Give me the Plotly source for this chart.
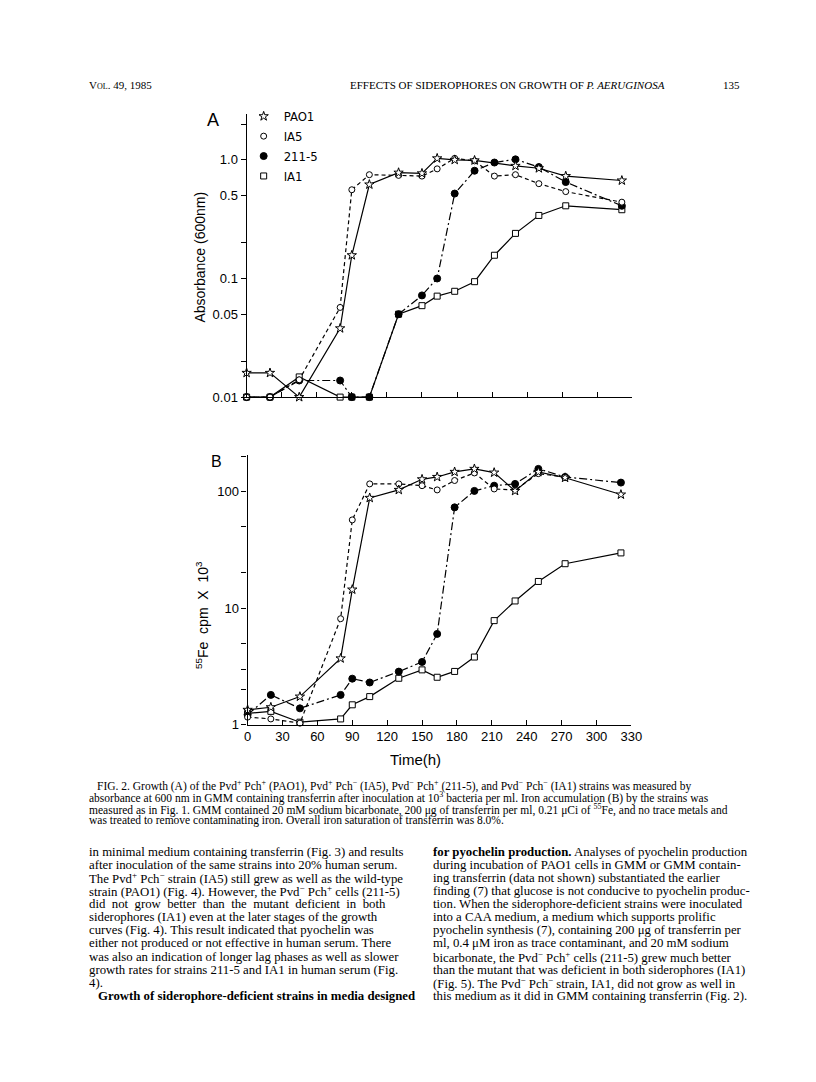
import plotly.graph_objects as go

W, H = 816, 1082

# ---- data ----
strains = ["PAO1", "IA5", "211-5", "IA1"]

# panel A: absorbance (600 nm)
a_pao1_t = [0, 20, 45, 80, 90, 105, 130, 150, 163, 178, 195, 230, 250, 273, 321]
a_pao1_v = [0.016, 0.016, 0.010, 0.038, 0.157, 0.62, 0.78, 0.77, 1.03, 1.0, 0.99, 0.89, 0.85, 0.73, 0.67]
a_ia5_t = [0, 20, 45, 80, 90, 105, 130, 150, 163, 178, 195, 212, 230, 250, 273, 321]
a_ia5_v = [0.01, 0.01, 0.014, 0.057, 0.56, 0.75, 0.74, 0.73, 0.84, 1.03, 0.98, 0.73, 0.75, 0.63, 0.54, 0.44]
a_2115_t = [0, 20, 45, 80, 90, 105, 130, 150, 163, 178, 195, 212, 230, 250, 273, 321]
a_2115_v = [0.01, 0.01, 0.0138, 0.0138, 0.01, 0.01, 0.05, 0.072, 0.10, 0.52, 0.81, 0.95, 1.01, 0.87, 0.65, 0.41]
a_ia1_t = [0, 20, 45, 80, 90, 105, 130, 150, 163, 178, 195, 212, 230, 250, 273, 321]
a_ia1_v = [0.01, 0.01, 0.0148, 0.01, 0.01, 0.01, 0.05, 0.059, 0.071, 0.078, 0.094, 0.157, 0.24, 0.34, 0.41, 0.38]

# panel B: 55Fe cpm x 10^3
b_pao1_t = [0, 20, 45, 80, 90, 105, 130, 150, 163, 178, 195, 212, 230, 250, 273, 321]
b_pao1_v = [1.34, 1.41, 1.74, 3.7, 14.4, 88, 103, 127, 133, 147, 156, 145, 101, 147, 131, 94]
b_ia5_t = [0, 20, 45, 80, 90, 105, 130, 150, 163, 178, 195, 212, 230, 250, 273]
b_ia5_v = [1.16, 1.12, 1.03, 8.1, 57, 116, 116, 112, 103, 124, 144, 105, 103, 142, 133]
b_2115_t = [0, 20, 45, 80, 90, 105, 130, 150, 163, 178, 195, 212, 230, 250, 273, 321]
b_2115_v = [1.22, 1.8, 1.38, 1.8, 2.48, 2.3, 2.85, 3.45, 6.0, 73, 101, 112, 116, 156, 133, 119]
b_ia1_t = [0, 20, 45, 80, 90, 105, 130, 150, 163, 178, 195, 212, 230, 250, 273, 321]
b_ia1_v = [1.25, 1.3, 1.05, 1.12, 1.48, 1.74, 2.5, 2.95, 2.55, 2.86, 3.8, 7.8, 11.5, 16.9, 24, 29.7]

x_ticks = [0, 30, 60, 90, 120, 150, 180, 210, 240, 270, 300, 330]
a_ticks = [0.01, 0.05, 0.1, 0.5, 1]
a_ticktext = ["0.01", "0.05", "0.1", "0.5", "1.0"]
a_minor = [0.02, 0.2, 2]
b_ticks = [1, 10, 100]
b_ticktext = ["1", "10", "100"]
b_minor = [2, 3, 5, 20, 50, 200]

styles = {
    "PAO1": dict(symbol="star", fill="white", dash="solid", size=7),
    "IA5": dict(symbol="circle", fill="white", dash="4px,3px", size=6),
    "211-5": dict(symbol="circle", fill="black", dash="8px,3px,2px,3px", size=7),
    "IA1": dict(symbol="square", fill="white", dash="solid", size=6),
}

def px_x(X):
    return X / W

def px_y(Y):
    return 1 - Y / H

fig = go.Figure()

def add_series(t, v, name, xa, ya):
    s = styles[name]
    fig.add_trace(go.Scatter(
        x=t, y=v, mode="lines+markers", name=name, showlegend=False,
        xaxis=xa, yaxis=ya, cliponaxis=False,
        line=dict(color="black", width=1.2, dash=s["dash"]),
        marker=dict(symbol=s["symbol"], size=s["size"], color=s["fill"],
                    line=dict(color="black", width=1)),
    ))

add_series(a_ia1_t, a_ia1_v, "IA1", "x", "y")
add_series(a_2115_t, a_2115_v, "211-5", "x", "y")
add_series(a_ia5_t, a_ia5_v, "IA5", "x", "y")
add_series(a_pao1_t, a_pao1_v, "PAO1", "x", "y")
add_series(b_ia1_t, b_ia1_v, "IA1", "x2", "y2")
add_series(b_2115_t, b_2115_v, "211-5", "x2", "y2")
add_series(b_ia5_t, b_ia5_v, "IA5", "x2", "y2")
add_series(b_pao1_t, b_pao1_v, "PAO1", "x2", "y2")

# legend entries (markers only)
for name in strains:
    s = styles[name]
    fig.add_trace(go.Scatter(
        x=[None], y=[None], mode="markers", name=name, xaxis="x", yaxis="y",
        marker=dict(symbol=s["symbol"], size=s["size"], color=s["fill"],
                    line=dict(color="black", width=1)),
    ))

sans = "Liberation Sans, Arial, sans-serif"
narrow = "Liberation Sans Narrow, DejaVu Sans Condensed, Liberation Sans, sans-serif"
serif = "Liberation Serif, Times New Roman, serif"

axis_common = dict(showline=True, linecolor="black", linewidth=1.2, showgrid=False,
                   zeroline=False, ticks="outside", ticklen=5, tickcolor="black",
                   tickwidth=1.2, tickfont=dict(family=sans, size=13, color="black"))
minor_y = dict(ticks="outside", ticklen=5, tickcolor="black", tickwidth=1.2, showgrid=False)

fig.update_layout(
    width=W, height=H, margin=dict(l=0, r=0, t=0, b=0),
    paper_bgcolor="white", plot_bgcolor="white",
    xaxis=dict(axis_common, domain=[px_x(239), px_x(632)], range=[0, 330],
               tickvals=x_ticks, showticklabels=False, ticks="inside", anchor="y"),
    yaxis=dict(axis_common, domain=[px_y(392), px_y(107)], type="log", range=[-2, 0.385],
               tickvals=a_ticks, ticktext=a_ticktext, anchor="x",
               minor=dict(minor_y, tickvals=a_minor)),
    xaxis2=dict(axis_common, domain=[px_x(240), px_x(631)], range=[0, 330],
                tickvals=x_ticks, ticks="inside", anchor="y2"),
    yaxis2=dict(axis_common, domain=[px_y(722), px_y(450)], type="log", range=[0, 2.315],
                tickvals=b_ticks, ticktext=b_ticktext, anchor="x2",
                minor=dict(minor_y, tickvals=b_minor)),
    legend=dict(x=px_x(236), y=px_y(94), xanchor="left", yanchor="top",
                bgcolor="rgba(0,0,0,0)", font=dict(family=narrow, size=13, color="black"),
                itemwidth=30, tracegroupgap=0),
    font=dict(family=sans, color="black"),
)

ann = []

def text(X, Y, s, size, family=serif, anchor="left", angle=0):
    ann.append(dict(x=px_x(X), y=px_y(Y), xref="paper", yref="paper", text=s,
                    showarrow=False, xanchor=anchor, yanchor="middle", textangle=angle,
                    font=dict(family=family, size=size, color="black")))

# header
text(76, 78, "V<span style='font-size:8px'>OL</span>. 49, 1985", 11)
text(342, 78, "EFFECTS OF SIDEROPHORES ON GROWTH OF <i>P. AERUGINOSA</i>", 11)
text(744, 78, "135", 11, anchor="right")

# panel labels and axis titles
text(205, 113, "A", 18, family=sans, anchor="center")
text(208, 457, "B", 16, family=sans, anchor="center")
text(192, 251, "Absorbance (600nm)", 14, family=sans, anchor="center", angle=-90)
text(194, 611, "<sup>55</sup>Fe  cpm  X  10<sup>3</sup>", 14, family=sans, anchor="center", angle=-90)
text(411, 757, "Time(h)", 15, family=sans, anchor="center")

# caption
caption = [
    "FIG. 2. Growth (A) of the Pvd<sup>+</sup> Pch<sup>+</sup> (PAO1), Pvd<sup>+</sup> Pch<sup>\u2212</sup> (IA5), Pvd<sup>\u2212</sup> Pch<sup>+</sup> (211-5), and Pvd<sup>\u2212</sup> Pch<sup>\u2212</sup> (IA1) strains was measured by",
    "absorbance at 600 nm in GMM containing transferrin after inoculation at 10<sup>3</sup> bacteria per ml. Iron accumulation (B) by the strains was",
    "measured as in Fig. 1. GMM contained 20 mM sodium bicarbonate, 200 \u03bcg of transferrin per ml, 0.21 \u03bcCi of <sup>55</sup>Fe, and no trace metals and",
    "was treated to remove contaminating iron. Overall iron saturation of transferrin was 8.0%.",
]
for i, line in enumerate(caption):
    text(85 if i == 0 else 76, 783 + 12 * i, line, 11.5)

left_col = [
    "in minimal medium containing transferrin (Fig. 3) and results",
    "after inoculation of the same strains into 20% human serum.",
    "The Pvd<sup>+</sup> Pch<sup>\u2212</sup> strain (IA5) still grew as well as the wild-type",
    "strain (PAO1) (Fig. 4). However, the Pvd<sup>\u2212</sup> Pch<sup>+</sup> cells (211-5)",
    "did  not  grow  better  than  the  mutant  deficient  in  both",
    "siderophores (IA1) even at the later stages of the growth",
    "curves (Fig. 4). This result indicated that pyochelin was",
    "either not produced or not effective in human serum. There",
    "was also an indication of longer lag phases as well as slower",
    "growth rates for strains 211-5 and IA1 in human serum (Fig.",
    "4).",
    "<b>Growth of siderophore-deficient strains in media designed</b>",
]
right_col = [
    "<b>for pyochelin production.</b> Analyses of pyochelin production",
    "during incubation of PAO1 cells in GMM or GMM contain-",
    "ing transferrin (data not shown) substantiated the earlier",
    "finding (7) that glucose is not conducive to pyochelin produc-",
    "tion. When the siderophore-deficient strains were inoculated",
    "into a CAA medium, a medium which supports prolific",
    "pyochelin synthesis (7), containing 200 \u03bcg of transferrin per",
    "ml, 0.4 \u03bcM iron as trace contaminant, and 20 mM sodium",
    "bicarbonate, the Pvd<sup>\u2212</sup> Pch<sup>+</sup> cells (211-5) grew much better",
    "than the mutant that was deficient in both siderophores (IA1)",
    "(Fig. 5). The Pvd<sup>\u2212</sup> Pch<sup>\u2212</sup> strain, IA1, did not grow as well in",
    "this medium as it did in GMM containing transferrin (Fig. 2).",
]
for i, line in enumerate(left_col):
    text(86 if i == len(left_col) - 1 else 76, 850 + 13.2 * i, line, 12.8)
for i, line in enumerate(right_col):
    text(427, 850 + 13.2 * i, line, 12.8)

fig.update_layout(annotations=ann)
fig.write_html("out.html")
